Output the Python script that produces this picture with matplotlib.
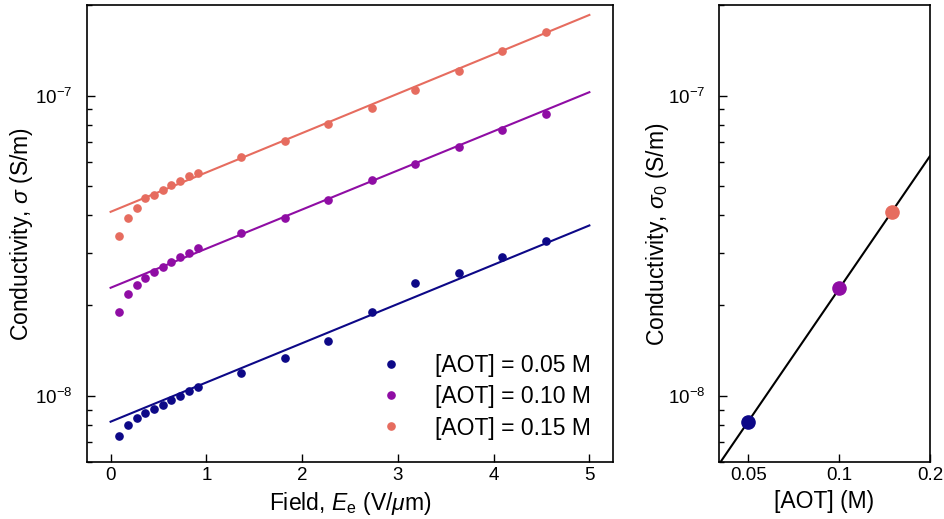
import numpy as np
import matplotlib
matplotlib.use("Agg")
import matplotlib.pyplot as plt
from matplotlib.ticker import FixedLocator, FixedFormatter, NullLocator, LogLocator

plt.rcParams["font.family"] = ["Liberation Sans", "DejaVu Sans"]
plt.rcParams["mathtext.fontset"] = "custom"
plt.rcParams["mathtext.rm"] = "Liberation Sans"
plt.rcParams["mathtext.it"] = "Liberation Sans:italic"
plt.rcParams["mathtext.default"] = "regular"

# Applied field (V/um)
field = [0.091, 0.182, 0.273, 0.364, 0.455, 0.545, 0.636, 0.727, 0.818, 0.909,
         1.364, 1.818, 2.273, 2.727, 3.182, 3.636, 4.091, 4.545]

# Measured conductivity (S/m) for each surfactant concentration
sigma_005 = [7.34e-9, 8.00e-9, 8.45e-9, 8.76e-9, 9.05e-9, 9.33e-9, 9.67e-9, 9.98e-9,
             1.037e-8, 1.066e-8, 1.193e-8, 1.339e-8, 1.525e-8, 1.90e-8, 2.37e-8,
             2.56e-8, 2.90e-8, 3.27e-8]
sigma_010 = [1.90e-8, 2.18e-8, 2.34e-8, 2.47e-8, 2.59e-8, 2.69e-8, 2.80e-8, 2.90e-8,
             3.00e-8, 3.11e-8, 3.48e-8, 3.91e-8, 4.48e-8, 5.22e-8, 5.92e-8,
             6.72e-8, 7.70e-8, 8.66e-8]
sigma_015 = [3.40e-8, 3.92e-8, 4.22e-8, 4.56e-8, 4.65e-8, 4.83e-8, 5.02e-8, 5.21e-8,
             5.38e-8, 5.54e-8, 6.26e-8, 7.06e-8, 8.05e-8, 9.07e-8, 1.04e-7,
             1.205e-7, 1.406e-7, 1.634e-7]

# Exponential fits sigma = sigma0 * exp(b * E)
aot_conc = [0.05, 0.10, 0.15]
sigma0 = [8.2e-9, 2.29e-8, 4.10e-8]
fit_slope = [0.301, 0.300, 0.302]
labels = ["[AOT] = 0.05 M", "[AOT] = 0.10 M", "[AOT] = 0.15 M"]

colors = ["#0d0887", "#8f0da4", "#e66c5f"]

fig = plt.figure(figsize=(9.45, 5.19), dpi=100)
ax1 = fig.add_axes([0.0917, 0.109, 0.649 - 0.0917, 0.990 - 0.109])
ax2 = fig.add_axes([0.761, 0.109, 0.984 - 0.761, 0.990 - 0.109])

E_fit = np.linspace(0, 5, 100)
for sig, s0, b, c, lab in zip([sigma_005, sigma_010, sigma_015], sigma0, fit_slope, colors, labels):
    ax1.plot(field, sig, "o", ms=5.2, color=c, label=lab, lw=0)
    ax1.plot(E_fit, s0 * np.exp(b * E_fit), "-", color=c, lw=1.5)

ax1.set_yscale("log")
ax1.set_xlim(-0.25, 5.25)
ax1.set_ylim(6e-9, 2e-7)
ax1.set_xticks([0, 1, 2, 3, 4, 5])
ax1.set_xlabel(r"Field, $\mathit{E}_\mathrm{e}$ (V/$\mathit{\mu}$m)", fontsize=16.5)
ax1.set_ylabel(r"Conductivity, $\mathit{\sigma}$ (S/m)", fontsize=16.5, labelpad=0.5)
leg = ax1.legend(loc="lower right", frameon=False, fontsize=16.5, handletextpad=0.9,
                 borderaxespad=0.6, labelspacing=0.35, markerscale=1.0)

# Power-law fit of sigma0 against concentration
logc = np.log10(aot_conc)
logs = np.log10(sigma0)
n, a = np.polyfit(logc, logs, 1)
c_fit = np.logspace(np.log10(0.04), np.log10(0.2), 100)
ax2.plot(c_fit, 10 ** (a + n * np.log10(c_fit)), "-", color="black", lw=1.5, zorder=1)
for cc, s0, col in zip(aot_conc, sigma0, colors):
    ax2.plot(cc, s0, "o", ms=9.5, color=col, zorder=2)

ax2.set_xscale("log")
ax2.set_yscale("log")
ax2.set_xlim(0.04, 0.2)
ax2.set_ylim(6e-9, 2e-7)
ax2.xaxis.set_major_locator(FixedLocator([0.05, 0.1, 0.2]))
ax2.xaxis.set_major_formatter(FixedFormatter(["0.05", "0.1", "0.2"]))
ax2.xaxis.set_minor_locator(NullLocator())
ax2.set_xlabel("[AOT] (M)", fontsize=16.5)
ax2.set_ylabel(r"Conductivity, $\mathit{\sigma}_0$ (S/m)", fontsize=16.5, labelpad=-2)

for ax in (ax1, ax2):
    ax.tick_params(which="both", direction="in", labelsize=13.5)
    ax.tick_params(which="major", length=6, width=1)
    ax.tick_params(which="minor", length=3.5, width=1)
    ax.tick_params(axis="y", which="both", pad=10)
    ax.yaxis.set_major_locator(LogLocator(base=10, numticks=10))
    ax.yaxis.set_minor_locator(LogLocator(base=10, subs=np.arange(2, 10), numticks=10))
    for sp in ax.spines.values():
        sp.set_linewidth(1.2)
ax1.xaxis.set_minor_locator(NullLocator())

fig.savefig("out.png", dpi=100)
